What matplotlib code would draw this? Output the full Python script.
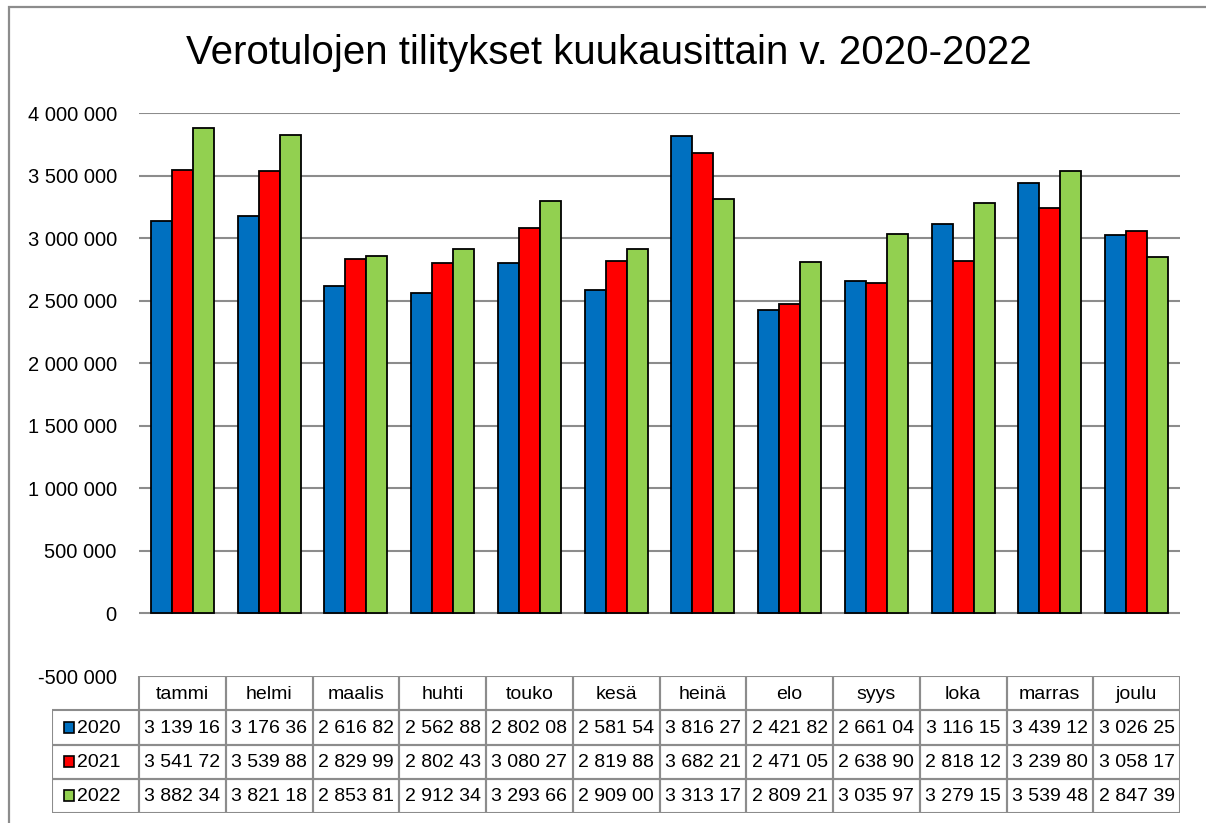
import matplotlib.pyplot as plt
from matplotlib.patches import Rectangle

plt.rcParams['font.family'] = ['Liberation Sans', 'DejaVu Sans']

months = ['tammi', 'helmi', 'maalis', 'huhti', 'touko', 'kesä',
          'heinä', 'elo', 'syys', 'loka', 'marras', 'joulu']
years = ['2020', '2021', '2022']
v2020 = [3139160, 3176360, 2616820, 2562880, 2802080, 2581540,
         3816270, 2421820, 2661040, 3116150, 3439120, 3026250]
v2021 = [3541720, 3539880, 2829990, 2802430, 3080270, 2819880,
         3682210, 2471050, 2638900, 2818120, 3239800, 3058170]
v2022 = [3882340, 3821180, 2853810, 2912340, 3293660, 2909000,
         3313170, 2809210, 3035970, 3279150, 3539480, 2847390]
colors = ['#0070C0', '#FF0000', '#92D050']
yticks = [-500000, 0, 500000, 1000000, 1500000, 2000000,
          2500000, 3000000, 3500000, 4000000]

W, H = 1206, 823
fig = plt.figure(figsize=(W / 100, H / 100), dpi=100)

def rect(x0, y0, x1, y1):
    # pixel box (top-left origin) -> figure fraction
    return [x0 / W, 1 - y1 / H, (x1 - x0) / W, (y1 - y0) / H]

# outer chart frame (runs off the right/bottom edge like the reference)
fig.patches.append(Rectangle((9 / W, -0.1), 1.2, 1 - 7 / H + 0.1,
                             transform=fig.transFigure, fill=False,
                             edgecolor='#8c8c8c', lw=1.6))

fig.text(609 / W, 1 - 53 / H, 'Verotulojen tilitykset kuukausittain v. 2020-2022',
         ha='center', va='center', fontsize=29)

ax = fig.add_axes(rect(139, 113, 1180, 676))
series = [v2020, v2021, v2022]
bw = 0.242
for k, vals in enumerate(series):
    xs = [i + (k - 1) * bw for i in range(len(months))]
    ax.bar(xs, vals, width=bw, color=colors[k], edgecolor='black',
           linewidth=1.3, zorder=3)

ax.set_xlim(-0.5, 11.5)
ax.set_ylim(-500000, 4000000)
ax.set_yticks(yticks)
ax.set_yticklabels([f'{t:,}'.replace(',', ' ') for t in yticks], fontsize=14.5)
ax.tick_params(axis='y', length=0, pad=16)
ax.set_xticks([])
for s in ax.spines.values():
    s.set_visible(False)
for t in yticks:
    if t >= 0:
        ax.axhline(t, color='#8c8c8c', lw=1.5, zorder=1)

# data table under the plot
tax = fig.add_axes(rect(139 - 86.75, 676, 1180, 813))
tax.set_xlim(-1.5, 11.5)
tax.set_ylim(4, 0)
tax.axis('off')
lc = '#8c8c8c'
fs = 14
for i, m in enumerate(months):
    tax.add_patch(Rectangle((i - 0.5, 0), 1, 1, fill=False, edgecolor=lc, lw=1.5))
    tax.text(i, 0.55, m, ha='center', va='center', fontsize=fs)
for r, (yr, vals) in enumerate(zip(years, series)):
    y = r + 1
    tax.add_patch(Rectangle((-1.5, y), 1, 1, fill=False, edgecolor=lc, lw=1.5))
    tax.add_patch(Rectangle((-1.37, y + 0.34), 0.12, 0.32, facecolor=colors[r],
                            edgecolor='black', lw=1.2))
    tax.text(-1.22, y + 0.52, yr, ha='left', va='center', fontsize=fs)
    for i, v in enumerate(vals):
        tax.add_patch(Rectangle((i - 0.5, y), 1, 1, fill=False, edgecolor=lc, lw=1.5))
        txt = f'{v:,}'.replace(',', ' ')[:-1]
        tax.text(i, y + 0.52, txt, ha='center', va='center', fontsize=fs)

fig.savefig('out.png', dpi=100)
